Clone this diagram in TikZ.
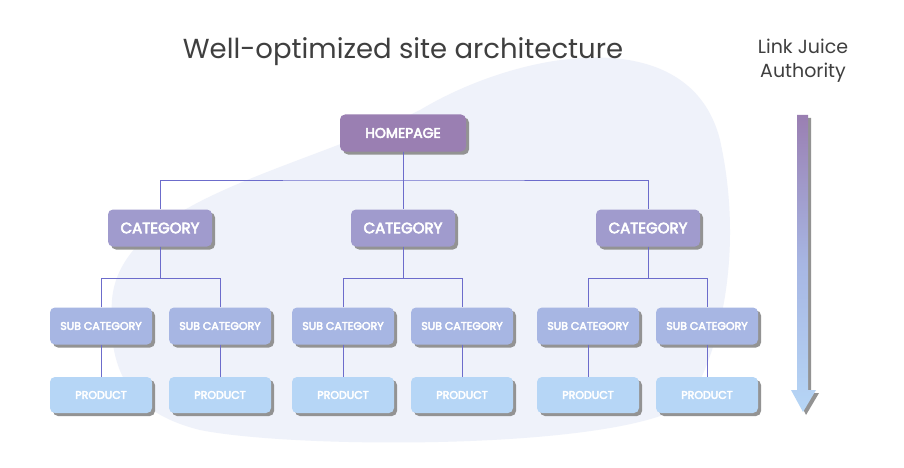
\documentclass[tikz,border=0pt]{standalone}
\usepackage{fontspec}
\setmainfont{Poppins}
\newfontfamily\pb{Poppins}[FakeBold=4]
\usetikzlibrary{shadows}
\definecolor{hp}{HTML}{9A7FB2}
\definecolor{cat}{HTML}{A09BCD}
\definecolor{sub}{HTML}{A7B6E3}
\definecolor{prod}{HTML}{B6D6F6}
\definecolor{ln}{HTML}{6C6CCB}
\definecolor{blob}{HTML}{EFF2FA}
\definecolor{tx}{HTML}{3F3F3F}
\begin{document}
\begin{tikzpicture}[x=1pt,y=-1pt,
 box/.style={rounded corners=5pt,text=white,minimum height=37pt,inner sep=0pt,
   drop shadow={shadow xshift=3pt,shadow yshift=-3pt,fill=gray!85,opacity=1}},
 hpb/.style={box,fill=hp,minimum width=126pt,font=\pb\fontsize{14}{14}\selectfont},
 catb/.style={box,fill=cat,minimum width=104pt,font=\pb\fontsize{15}{15}\selectfont},
 subb/.style={box,fill=sub,minimum width=102pt,font=\pb\fontsize{11}{11}\selectfont},
 prodb/.style={box,fill=prod,minimum width=102pt,minimum height=36pt,font=\pb\fontsize{11}{11}\selectfont},
 conn/.style={draw=ln,line width=0.9pt}]
\useasboundingbox (0,0) rectangle (904,468);
\fill[white] (0,0) rectangle (904,468);
\fill[blob] (112,300) .. controls (120,200) and (300,170) .. (420,110)
 .. controls (520,50) and (690,20) .. (720,140)
 .. controls (740,230) and (730,330) .. (690,400)
 .. controls (640,450) and (300,450) .. (200,430)
 .. controls (120,410) and (108,360) .. (112,300) -- cycle;
\node[font=\fontsize{27.5}{27}\selectfont,text=tx] (title) at (403,52) {Well-optimized site architecture};
\node[font=\fontsize{19}{24}\selectfont,text=tx,align=center] (lj) at (803,61) {Link Juice\\Authority};
\node[hpb] (h) at (403,133) {HOMEPAGE};
\foreach \n/\x in {1/160,2/403,3/648}{\node[catb] (c\n) at (\x,228) {CATEGORY};}
\foreach \n/\x in {1/101,2/220,3/343,4/462,5/588,6/707}{
 \node[subb] (s\n) at (\x,326) {SUB CATEGORY};
 \node[prodb] (p\n) at (\x,395) {PRODUCT};}
\coordinate (hb) at (403,180);
\draw[conn] (h.south) -- (hb);
\draw[conn] (c1.north) |- (hb) -| (c3.north);
\draw[conn] (hb) -- (c2.north);
\foreach \c/\a/\b in {1/1/2,2/3/4,3/5/6}{
 \draw[conn] (c\c.south) -- ++(0,32) coordinate (k\c);
 \draw[conn] (s\a.north) |- (k\c) -| (s\b.north);
}
\foreach \n in {1,...,6}{\draw[conn] (s\n.south) -- (p\n.north);}
\fill[gray!85] (800,118) -- (811,118) -- (811,393) -- (819,393) -- (806,415) -- (795,393) -- (800,393) -- cycle;
\shade[top color=hp,bottom color=prod,middle color=sub] (797,115) -- (808,115) -- (808,390) -- (816,390) -- (803,412) -- (791,390) -- (797,390) -- cycle;
\end{tikzpicture}
\end{document}
